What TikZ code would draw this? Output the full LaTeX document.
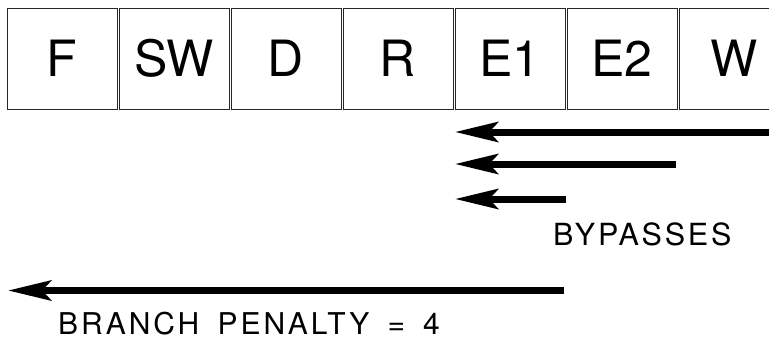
\documentclass[tikz,border=0pt]{standalone}
\usepackage{fontspec}
\setmainfont{TeX Gyre Heros}
\newfontfamily\bypfont[LetterSpace=9]{TeX Gyre Heros}
\newfontfamily\brfont[LetterSpace=10,WordSpace=1.6]{TeX Gyre Heros}
\usetikzlibrary{arrows.meta}
\tikzset{
  stagebox/.style={draw=black!85, line width=0.9pt, minimum width=110pt, minimum height=101pt,
    inner sep=0pt, font=\fontsize{50}{50}\selectfont},
  fatarrow/.style={line width=7pt, -{Stealth[length=43pt,width=20pt,inset=9pt]}},
  lbl/.style={anchor=west, inner sep=0pt}
}
\begin{document}
\begin{tikzpicture}[x=1pt,y=-1pt]
\useasboundingbox (0,0) rectangle (769,341);
\fill[white] (0,0) rectangle (769,341);
\node[stagebox] (F)  at (62,58.5)  {F};
\node[stagebox] (SW) at (174,58.5) {SW};
\node[stagebox] (D)  at (286,58.5) {D};
\node[stagebox] (R)  at (398,58.5) {R};
\node[stagebox] (E1) at (510,58.5) {E1};
\node[stagebox] (E2) at (622,58.5) {E2};
\node[stagebox] (W)  at (734,58.5) {W};
\coordinate (a1s) at (775,132);
\coordinate (a1e) at (455,132);
\coordinate (a2s) at (676,164);
\coordinate (a2e) at (455,164);
\coordinate (a3s) at (566,199);
\coordinate (a3e) at (455,199);
\coordinate (bs) at (564,290.5);
\coordinate (be) at (8,290.5);
\draw[fatarrow] (a1s) -- (a1e);
\draw[fatarrow] (a2s) -- (a2e);
\draw[fatarrow] (a3s) -- (a3e);
\draw[fatarrow] (bs) -- (be);
\node[lbl] (byp) at (553,234) {\fontsize{30.5}{31}\bypfont BYPASSES};
\node[lbl] (pen) at (58,323.5) {\fontsize{30}{31}\brfont BRANCH PENALTY = 4};
\end{tikzpicture}
\end{document}
